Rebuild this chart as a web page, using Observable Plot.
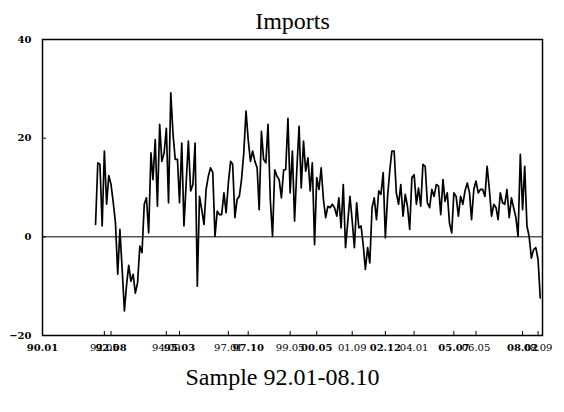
<!DOCTYPE html>
<html>
<head>
<meta charset="utf-8">
<script src="https://cdn.jsdelivr.net/npm/d3@7"></script>
<script src="https://cdn.jsdelivr.net/npm/@observablehq/plot@0.6"></script>
<style>
  html, body { margin: 0; padding: 0; background: #fff; }
  #chart svg { display: block; }
</style>
</head>
<body>
<div id="chart"></div>
<script>
// ---- Data ----
const title = "Imports";
const caption = "Sample 92.01-08.10";
const startMonth = "92.01";           // first observation
const xDomainLabels = ["90.01", "08.11"];
const values = [
  // 92.01 ...
  2.5, 15, 14.7, 2.2, 17.4, 6.6, 12.4, 10.6, 6.9, 2.8, -7.6, 1.5, -6.6, -15, -10, -5.8, -9, -7.6, -11.4, -9.3,
  -1.9, -3.2, 6.6, 7.9, 0.8, 17, 11.6, 19.7, 6.2, 22.8, 15.3, 17, 22,
  6.9, 29.2, 21, 15.7, 15.7, 6.9, 19, 2.2, 11, 19.4, 9.3, 10.6, 19, -10, 8.2, 5.5, 2.5, 9.6, 12.3, 14, 13,
  0.1, 5.2, 4.5, 4.5, 8.9, 4.9, 10.9, 15.3, 14.7, 3.9, 7.6, 8.2, 11.6, 17,
  25.5, 19.7, 15.3, 17.4, 15.3, 14, 5.5, 21.4, 15.7, 15, 22.8, 7.6, 0.1, 13.6, 12.3, 11.6, 7.9, 13.6, 13.6, 24,
  8.9, 17.4, 3.2, 13.6, 22.4, 9.9, 19.4, 13.3, 16, 9.3, 15, -1.6, 12, 9.6,
  14, 7.6, 3.9, 6.2, 5.9, 6.6, 5.9, 4.2, 7.9, 1.8, 10.6, -2.2, 2.8, 8.2, 3.2, -2.2, 6.9, 1.8, 2.2, -1.9,
  -6.6, -2.2, -5.3, 5.9, 7.9, 3.5, 9.3, 8.6, 13, -0.2, 8.2, 13.6, 17.4, 17.4,
  8.9, 6.6, 10.6, 4.2, 8.6, 6.2, 1.5, 12, 12.6, 6.6, 9.9, 6.2, 14.7, 14.3, 6.9, 5.9, 9.6, 8.2, 10.6, 10.3,
  4.5, 11.6, 7.2, 8.9, 2.8, 0.8, 8.9, 8.2, 4.2, 8.2, 6.6, 9.3, 10.9, 8.9, 3.5,
  9.6, 11.3, 8.9, 9.6, 9.6, 8.2, 14.3, 9.6, 4.2, 6.6, 5.9, 3.5, 8.9, 6.9, 6.6, 9.6, 3.9, 7.9, 5.9, 3.9,
  0.1, 16.7, 5.5, 14.3, 2.2, 0.1, -4.3, -2.6, -2.2, -4.6, -12.4
  // ... 08.10
];
const boldTickLabels  = ["90.01", "92.08", "95.03", "97.10", "00.05", "02.12", "05.07", "08.02"];
const plainTickLabels = ["92.05", "94.09", "97.01", "99.05", "01.09", "04.01", "06.05", "08.09"];
const yTicks = [-20, 0, 20, 40];
const yDomain = [-20, 40];

// ---- Build ----
const parseYM = s => {
  const [yy, mm] = s.split(".").map(Number);
  return new Date(Date.UTC(yy < 50 ? 2000 + yy : 1900 + yy, mm - 1, 1));
};
const start = parseYM(startMonth);
const data = values.map((v, i) => ({date: d3.utcMonth.offset(start, i), value: v}));
const fmt = d3.utcFormat("%y.%m");
const serif = "'Liberation Serif', 'Times New Roman', Times, serif";
const tickFont = "'DejaVu Serif', serif";
const boldTicks = boldTickLabels.map(parseYM);
const plainTicks = plainTickLabels.map(parseYM);

const chart = Plot.plot({
  width: 564,
  height: 412,
  marginTop: 39,
  marginBottom: 77,
  marginLeft: 42,
  marginRight: 22,
  style: {fontFamily: serif, background: "#fff", color: "#000"},
  x: {type: "utc", domain: xDomainLabels.map(parseYM), axis: null, label: null},
  y: {domain: yDomain, axis: null, label: null},
  marks: [
    Plot.ruleY([0], {stroke: "#000", strokeWidth: 1}),
    Plot.line(data, {x: "date", y: "value", stroke: "#000", strokeWidth: 1.7}),
    Plot.frame({stroke: "#000", strokeWidth: 1.5}),
    // inward tick marks
    Plot.axisX(boldTicks.concat(plainTicks), {tickSize: -4, tickFormat: () => "", label: null, stroke: "#000"}),
    Plot.axisY(yTicks, {tickSize: -4, tickFormat: () => "", label: null, stroke: "#000"}),
    // tick labels
    Plot.axisX(plainTicks, {tickSize: 0, tickPadding: 8, tickFormat: fmt, fontSize: 10, fontFamily: tickFont, label: null, fill: "#000"}),
    Plot.axisX(boldTicks, {tickSize: 0, tickPadding: 8, tickFormat: fmt, fontSize: 10, fontWeight: "bold", fontFamily: tickFont, label: null, fill: "#000"}),
    Plot.axisY(yTicks, {tickSize: 0, tickPadding: 11, fontSize: 10, fontWeight: "bold", fontFamily: tickFont, label: null, fill: "#000"}),
    Plot.text([title], {text: d => d, frameAnchor: "top", lineAnchor: "middle", dy: -18, fontSize: 24, fill: "#000"}),
    Plot.text([caption], {text: d => d, frameAnchor: "bottom", lineAnchor: "middle", dx: -10, dy: 42, fontSize: 24, fill: "#000"})
  ]
});
document.getElementById("chart").appendChild(chart);
</script>
</body>
</html>
